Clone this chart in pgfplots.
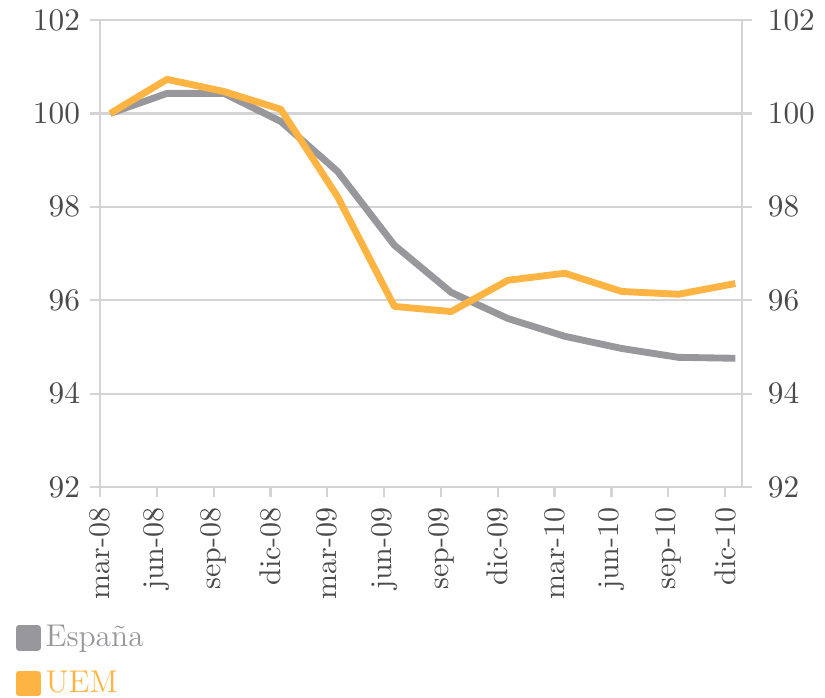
\documentclass[border=0pt]{standalone}
\usepackage{pgfplots}
\pgfplotsset{compat=1.18}
\definecolor{espana}{HTML}{98989C}
\definecolor{uem}{HTML}{FDB443}
\definecolor{gridc}{HTML}{D4D4D6}
\definecolor{lab}{HTML}{4A4A4A}

\begin{document}
\begin{tikzpicture}
\pgfplotsset{
  base/.style={width=224.7pt, height=163.5pt, scale only axis,
    xmin=0, xmax=11.3, ymin=92, ymax=102, ytick={92,94,...,102},
    tick align=outside, major tick length=3.5pt,
    tick style={draw=gridc, line width=0.8pt},
    axis line style={draw=gridc, line width=0.8pt},
    ticklabel style={font=\fontsize{10.5}{12}\selectfont, text=lab}},
}
\begin{axis}[base,
  axis x line*=bottom, axis y line*=left,
  ymajorgrids, grid style={draw=gridc, line width=0.8pt},
  xtick={0,...,11},
  xticklabels={mar-08,jun-08,sep-08,dic-08,mar-09,jun-09,sep-09,dic-09,mar-10,jun-10,sep-10,dic-10},
  xticklabel style={rotate=90, anchor=east},
  legend cell align=left,
  legend style={at={(0,0)}, anchor=north west, xshift=-29.75pt, yshift=-46pt,
    draw=none, fill=none, inner sep=0pt, row sep=3pt,
    font=\fontsize{11}{13}\selectfont,
    nodes={inner xsep=1.5pt}},
  legend image code/.code={\fill (0pt,-3.3pt) rectangle (6.6pt,3.3pt);},
]
  \coordinate (bl) at (rel axis cs:0,0);
  \coordinate (tr) at (rel axis cs:1,1);
  \addplot[color=espana, line width=2.4pt, line join=round] coordinates {
    (0.18,100.00) (1.18,100.43) (2.18,100.43) (3.18,99.83) (4.18,98.76) (5.18,97.18)
    (6.18,96.17) (7.18,95.61) (8.18,95.23) (9.18,94.97) (10.18,94.78) (11.18,94.76)};
  \addlegendentry{\textcolor{espana}{España}}
  \addplot[color=uem, line width=2.4pt, line join=round] coordinates {
    (0.18,100.00) (1.18,100.73) (2.18,100.47) (3.18,100.09) (4.18,98.22) (5.18,95.87)
    (6.18,95.76) (7.18,96.43) (8.18,96.58) (9.18,96.19) (10.18,96.13) (11.18,96.36)};
  \addlegendentry{\textcolor{uem}{UEM}}
\end{axis}
\begin{axis}[base,
  axis x line=none, axis y line*=right, xtick=\empty,
  yticklabel style={xshift=2pt}]
  \addplot[draw=none] coordinates {(0,92)};
\end{axis}
\path (bl) ++(-35pt,-73.5pt) coordinate (a);
\path (tr) ++(29pt,7pt) coordinate (b);
\pgfresetboundingbox
\path (a) rectangle (b);
\end{tikzpicture}
\end{document}
